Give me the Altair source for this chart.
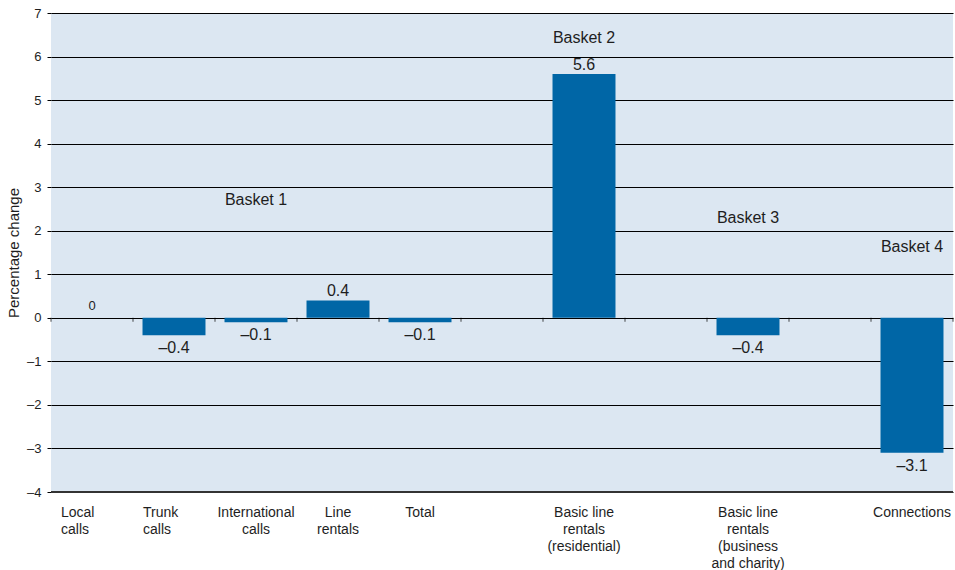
import altair as alt
import pandas as pd

# ---- data ----
categories = ["Local calls", "Trunk calls", "International calls", "Line rentals", "Total",
              "Basic line rentals (residential)", "Basic line rentals (business and charity)",
              "Connections"]
values = [0, -0.4, -0.1, 0.4, -0.1, 5.6, -0.4, -3.1]
axis_labels = ["Local\ncalls", "Trunk\ncalls", "International\ncalls", "Line\nrentals", "Total",
               "Basic line\nrentals\n(residential)", "Basic line\nrentals\n(business\nand charity)",
               "Connections"]
slot_order = ["Local calls", "Trunk calls", "International calls", "Line rentals", "Total", "gap1",
              "Basic line rentals (residential)", "gap2",
              "Basic line rentals (business and charity)", "gap3", "Connections"]
left_aligned = ["Local calls", "Trunk calls"]

basket_names = ["Basket 1", "Basket 2", "Basket 3", "Basket 4"]
basket_cats = ["International calls", "Basic line rentals (residential)",
               "Basic line rentals (business and charity)", "Connections"]
basket_y = [2.58, 6.30, 2.18, 1.52]

y_ticks = [-4, -3, -2, -1, 0, 1, 2, 3, 4, 5, 6, 7]

df = pd.DataFrame({"cat": categories, "value": values, "lab": axis_labels})
df_b = pd.DataFrame({"cat": basket_cats, "name": basket_names, "y": basket_y})
df_slots = pd.DataFrame({"cat": slot_order})
df_last = pd.DataFrame({"cat": slot_order[-1:]})

FONT = "Liberation Sans"
BAR = "#0066a6"
TXT = "#1e1e1e"
W, H = 902, 479
STEP = W / len(slot_order)

xscale = alt.Scale(domain=slot_order, paddingInner=0.232, paddingOuter=0.116)
yscale = alt.Scale(domain=[-4, 7], nice=False, zero=False)

y_axis = alt.Axis(values=y_ticks, grid=True, gridColor="#000000", gridWidth=1, domain=False,
                  tickColor="#000000", tickSize=4, labelPadding=6, labelFont=FONT, labelFontSize=13,
                  labelColor=TXT,
                  labelExpr="datum.value < 0 ? '\u2013' + abs(datum.value) : datum.label",
                  title="Percentage change", titleFont=FONT, titleFontSize=15,
                  titleFontWeight="normal", titleColor=TXT, titlePadding=5)

X = alt.X("cat:N", scale=xscale, axis=None, sort=slot_order)

bars = alt.Chart(df).mark_bar(color=BAR).encode(
    x=X,
    y=alt.Y("value:Q", scale=yscale, axis=y_axis),
    y2=alt.datum(0),
)

bottom_line = alt.Chart(df).mark_rule(color="#333333", strokeWidth=2.2).encode(
    y=alt.datum(-4)
)

zero_ticks = alt.Chart(df_slots).mark_tick(
    orient="vertical", size=4, thickness=1, color="#000000", yOffset=2, xOffset=-STEP / 2
).encode(x=X, y=alt.datum(0))
end_tick = alt.Chart(df_last).mark_tick(
    orient="vertical", size=4, thickness=1, color="#000000", yOffset=2, xOffset=STEP / 2
).encode(x=X, y=alt.datum(0))

lab_base = alt.Chart(df).transform_calculate(
    txt="(datum.value < 0 ? '\u2013' : '') + format(abs(datum.value), '.1f')"
)
pos_labels = lab_base.transform_filter("datum.value > 0").mark_text(
    font=FONT, fontSize=16, color=TXT, baseline="alphabetic", dy=-4
).encode(x=X, y="value:Q", text="txt:N")
neg_labels = lab_base.transform_filter("datum.value < 0").mark_text(
    font=FONT, fontSize=16, color=TXT, baseline="alphabetic", dy=18
).encode(x=X, y="value:Q", text="txt:N")
zero_labels = alt.Chart(df).transform_filter("datum.value == 0").mark_text(
    font=FONT, fontSize=13, color=TXT, baseline="alphabetic", dy=-8
).encode(x=X, y="value:Q", text=alt.value("0"))

cat_labels_c = alt.Chart(df).transform_filter(
    {"not": alt.FieldOneOfPredicate(field="cat", oneOf=left_aligned)}
).mark_text(font=FONT, fontSize=14, color=TXT, baseline="top", align="center",
            lineBreak="\n", lineHeight=17).encode(
    x=X, y=alt.value(H + 14), text="lab:N")
cat_labels_l = alt.Chart(df).transform_filter(
    alt.FieldOneOfPredicate(field="cat", oneOf=left_aligned)
).mark_text(font=FONT, fontSize=14, color=TXT, baseline="top", align="left",
            lineBreak="\n", lineHeight=17, dx=-31).encode(
    x=X, y=alt.value(H + 14), text="lab:N")

baskets = alt.Chart(df_b).mark_text(
    font=FONT, fontSize=16, color=TXT, baseline="alphabetic", align="center"
).encode(x=X, y="y:Q", text="name:N")

chart = alt.layer(
    bars, bottom_line, zero_ticks, end_tick, pos_labels, neg_labels, zero_labels,
    cat_labels_c, cat_labels_l, baskets
).properties(
    width=W, height=H,
    autosize=alt.AutoSizeParams(type="none"),
    padding={"left": 51, "top": 13, "right": 2, "bottom": 78},
    background="#ffffff",
).configure_view(fill="#dce7f2", stroke=None)

chart.save("out.html", embed_options={"renderer": "svg", "actions": False})
